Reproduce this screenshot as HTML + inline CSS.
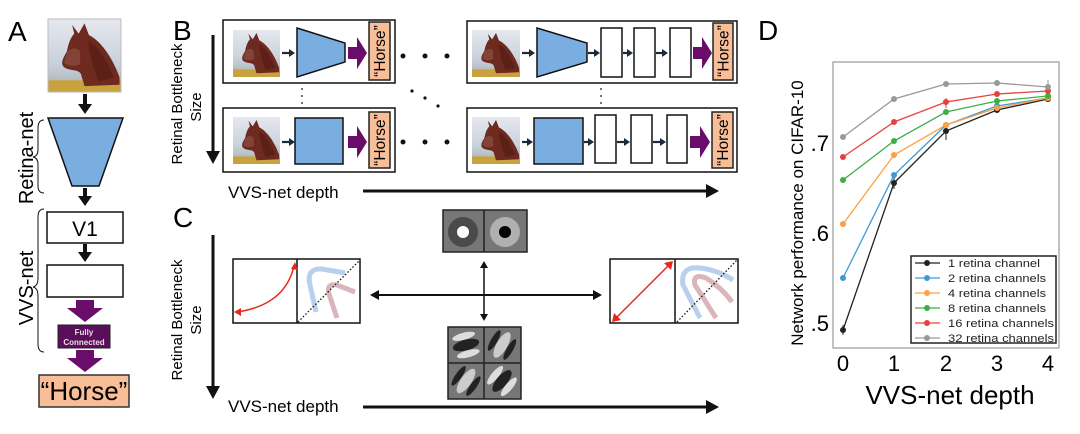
<!DOCTYPE html>
<html><head><meta charset="utf-8"><style>
html,body{margin:0;padding:0;background:#fff;}
svg{display:block;}
text{font-family:"Liberation Sans",sans-serif;}
</style></head><body>
<svg width="1080" height="434" viewBox="0 0 1080 434" xmlns="http://www.w3.org/2000/svg">
<defs>
<linearGradient id="sky" x1="0" y1="0" x2="0" y2="1">
<stop offset="0" stop-color="#e6e8ee"/><stop offset="0.6" stop-color="#c9d2dc"/><stop offset="0.8" stop-color="#b8c0c8"/><stop offset="1" stop-color="#c8a23c"/>
</linearGradient>
<symbol id="horse" viewBox="0 0 100 100" preserveAspectRatio="none">
<rect x="0" y="0" width="100" height="100" fill="url(#sky)"/>
<rect x="0" y="84" width="100" height="16" fill="#c9a23e"/>
<path d="M33,8 L42,20 L50,6 L56,22 C72,30 88,52 98,80 L98,90 L50,92 L45,75 C40,68 30,72 22,66 C16,60 22,52 26,44 C28,32 32,24 36,20 Z" fill="#6e2a1e"/>
<path d="M26,46 C30,40 38,38 44,44 L44,62 C36,66 26,64 22,60 Z" fill="#8a5040" opacity="0.7"/>
<path d="M55,30 C70,38 80,55 90,80 L70,86 C62,70 58,50 55,30 Z" fill="#521a12" opacity="0.6"/>
</symbol>
<symbol id="gab" viewBox="-20 -20 40 40">
<ellipse cx="0" cy="-10" rx="13" ry="4" fill="#ddd"/>
<ellipse cx="0" cy="0" rx="15" ry="6" fill="#222"/>
<ellipse cx="0" cy="10" rx="13" ry="4" fill="#ddd"/>
</symbol>
<symbol id="gab2" viewBox="-20 -20 40 40">
<ellipse cx="0" cy="-10" rx="13" ry="3.5" fill="#222"/>
<ellipse cx="0" cy="0" rx="16" ry="6" fill="#ccc"/>
<ellipse cx="0" cy="10" rx="13" ry="3.5" fill="#222"/>
</symbol>
</defs>

<!-- ===== Panel A ===== -->
<text x="8" y="41" font-size="28">A</text>
<use href="#horse" x="48" y="19" width="73" height="73"/>
<rect x="48" y="19" width="73" height="73" fill="none" stroke="#bbb" stroke-width="1"/>
<g fill="#111">
<rect x="83" y="94" width="4" height="11"/><polygon points="78,104 92,104 85,114"/>
<rect x="83" y="188" width="4" height="9"/><polygon points="78,196 92,196 85,206"/>
<rect x="83" y="244" width="4" height="9"/><polygon points="78,252 92,252 85,262"/>
</g>
<polygon points="48,118 123,118 99,186 72,186" fill="#7aaee0" stroke="#111" stroke-width="1.5"/>
<rect x="47" y="212" width="76" height="31" fill="#fff" stroke="#111" stroke-width="1.5"/>
<text x="85" y="236" font-size="21" text-anchor="middle">V1</text>
<rect x="47" y="265" width="76" height="32" fill="#fff" stroke="#111" stroke-width="1.5"/>
<g fill="#6a0d6a">
<rect x="76" y="300" width="18" height="9"/><polygon points="67,308 103,308 85,322"/>
<rect x="76" y="350" width="18" height="9"/><polygon points="67,358 103,358 85,372"/>
</g>
<rect x="58" y="325" width="52" height="23" fill="#5a0f5a" stroke="#222" stroke-width="1"/>
<text x="84" y="335" font-size="8" font-weight="bold" fill="#f4d8e8" text-anchor="middle">Fully</text>
<text x="84" y="345" font-size="8" font-weight="bold" fill="#f4d8e8" text-anchor="middle">Connected</text>
<rect x="39" y="375" width="90" height="32" fill="#f7be98" stroke="#333" stroke-width="1.5"/>
<text x="84" y="400" font-size="26" text-anchor="middle">“Horse”</text>
<path d="M44,120 Q38,120 38,128 L38,150 Q38,156 33,157 Q38,158 38,164 L38,186 Q38,193 44,193" fill="none" stroke="#111" stroke-width="1"/>
<text transform="translate(33,158) rotate(-90)" font-size="20" text-anchor="middle">Retina-net</text>
<path d="M44,209 Q38,209 38,217 L38,278 Q38,286 33,287 Q38,288 38,296 L38,344 Q38,352 44,352" fill="none" stroke="#111" stroke-width="1"/>
<text transform="translate(33,288) rotate(-90)" font-size="20" text-anchor="middle">VVS-net</text>

<!-- ===== Panel B ===== -->
<text x="173" y="40" font-size="28">B</text>
<text transform="translate(182,104) rotate(-90)" font-size="15" text-anchor="middle">Retinal Bottleneck</text>
<text transform="translate(201,107) rotate(-90)" font-size="15" text-anchor="middle">Size</text>
<rect x="211.5" y="35" width="3" height="118" fill="#111"/><polygon points="206,151 220,151 213,164" fill="#111"/>
<text x="228" y="198" font-size="17">VVS-net depth</text>
<rect x="363" y="189.5" width="345" height="3" fill="#111"/><polygon points="706,184 719,191 706,198" fill="#111"/>

<rect x="223" y="20" width="172" height="63" fill="#fff" stroke="#111" stroke-width="1.5"/>
<use href="#horse" x="233" y="30" width="47" height="47"/>
<polygon points="297,28 345,43 345,62 297,77" fill="#7aaee0" stroke="#111" stroke-width="1.5"/>
<rect x="223" y="108" width="172" height="64" fill="#fff" stroke="#111" stroke-width="1.5"/>
<use href="#horse" x="233" y="117" width="47" height="47"/>
<rect x="295" y="118" width="48" height="46" fill="#7aaee0" stroke="#111" stroke-width="1.5"/>
<rect x="467" y="21" width="270" height="62" fill="#fff" stroke="#111" stroke-width="1.5"/>
<use href="#horse" x="472" y="30" width="48" height="47"/>
<polygon points="537,28 587,43 587,62 537,77" fill="#7aaee0" stroke="#111" stroke-width="1.5"/>
<rect x="601" y="28" width="21" height="49" fill="#fff" stroke="#111" stroke-width="1.5"/>
<rect x="634" y="28" width="21" height="49" fill="#fff" stroke="#111" stroke-width="1.5"/>
<rect x="670" y="28" width="21" height="49" fill="#fff" stroke="#111" stroke-width="1.5"/>
<rect x="467" y="108" width="270" height="64" fill="#fff" stroke="#111" stroke-width="1.5"/>
<use href="#horse" x="472" y="117" width="48" height="47"/>
<rect x="534" y="118" width="49" height="46" fill="#7aaee0" stroke="#111" stroke-width="1.5"/>
<rect x="595" y="115" width="21" height="48" fill="#fff" stroke="#111" stroke-width="1.5"/>
<rect x="631" y="115" width="21" height="48" fill="#fff" stroke="#111" stroke-width="1.5"/>
<rect x="667" y="115" width="20" height="48" fill="#fff" stroke="#111" stroke-width="1.5"/>
<g stroke="#1a2a3a" stroke-width="2.2" fill="#1a2a3a">
<line x1="282" y1="53" x2="290" y2="53"/><polygon points="289,49 295,53 289,57" stroke="none"/>
<line x1="282" y1="142" x2="290" y2="142"/><polygon points="289,138 295,142 289,146" stroke="none"/>
<line x1="522" y1="53" x2="530" y2="53"/><polygon points="529,49 535,53 529,57" stroke="none"/>
<line x1="588" y1="53" x2="595" y2="53"/><polygon points="594,49 600,53 594,57" stroke="none"/>
<line x1="623" y1="53" x2="628" y2="53"/><polygon points="627,49 633,53 627,57" stroke="none"/>
<line x1="656" y1="53" x2="663" y2="53"/><polygon points="662,49 668,53 662,57" stroke="none"/>
<line x1="522" y1="142" x2="527" y2="142"/><polygon points="527,138 533,142 527,146" stroke="none"/>
<line x1="584" y1="142" x2="588" y2="142"/><polygon points="588,138 594,142 588,146" stroke="none"/>
<line x1="617" y1="142" x2="624" y2="142"/><polygon points="624,138 630,142 624,146" stroke="none"/>
<line x1="653" y1="142" x2="660" y2="142"/><polygon points="660,138 666,142 660,146" stroke="none"/>
</g>
<g fill="#6a0d6a">
<polygon points="348,47 357,47 357,37 367,53 357,69 357,59 348,59"/>
<polygon points="348,136 357,136 357,126 367,142 357,158 357,148 348,148"/>
<polygon points="693,47 702,47 702,37 712,53 702,69 702,59 693,59"/>
<polygon points="690,136 700,136 700,126 710,142 700,158 700,148 690,148"/>
</g>
<g fill="#f7be98" stroke="#222" stroke-width="1.5">
<rect x="369" y="22" width="21" height="58"/><rect x="369" y="112" width="21" height="56"/>
<rect x="713" y="23" width="20" height="57"/><rect x="712" y="112" width="21" height="56"/>
</g>
<g font-size="15.5">
<text transform="translate(385,51) rotate(-90)" text-anchor="middle">“Horse”</text>
<text transform="translate(385,140) rotate(-90)" text-anchor="middle">“Horse”</text>
<text transform="translate(728.5,51) rotate(-90)" text-anchor="middle">“Horse”</text>
<text transform="translate(728,140) rotate(-90)" text-anchor="middle">“Horse”</text>
</g>
<g fill="#111">
<circle cx="403" cy="56" r="2.5"/><circle cx="425" cy="56" r="2.5"/><circle cx="447" cy="56" r="2.5"/>
<circle cx="403" cy="142" r="2.5"/><circle cx="425" cy="142" r="2.5"/><circle cx="447" cy="142" r="2.5"/>
<circle cx="412" cy="91" r="1.6"/><circle cx="425" cy="98" r="1.6"/><circle cx="438" cy="106" r="1.6"/>
<circle cx="302" cy="89" r="0.9"/><circle cx="302" cy="96" r="0.9"/><circle cx="302" cy="103" r="0.9"/>
<circle cx="601" cy="89" r="0.9"/><circle cx="601" cy="96" r="0.9"/><circle cx="601" cy="103" r="0.9"/>
</g>

<!-- ===== Panel C ===== -->
<text x="173" y="227" font-size="28">C</text>
<text transform="translate(182,320) rotate(-90)" font-size="15" text-anchor="middle">Retinal Bottleneck</text>
<text transform="translate(201,320) rotate(-90)" font-size="15" text-anchor="middle">Size</text>
<rect x="211.5" y="235" width="3" height="153" fill="#111"/><polygon points="206,386 220,386 213,399" fill="#111"/>
<text x="228" y="412" font-size="17">VVS-net depth</text>
<rect x="363" y="405.5" width="345" height="3" fill="#111"/><polygon points="706,400 719,407 706,414" fill="#111"/>

<rect x="233" y="259" width="127" height="64" fill="#fff" stroke="#111" stroke-width="1.5"/>
<line x1="297" y1="259" x2="297" y2="323" stroke="#111" stroke-width="1.5"/>
<path d="M316,312 L310,285 Q306,268 322,269 L345,273" fill="none" stroke="#b8d0ee" stroke-width="5"/>
<path d="M337,318 L329,294 Q326,283 337,285 L355,292" fill="none" stroke="#d8b6bb" stroke-width="5"/>
<line x1="298" y1="322" x2="360" y2="260" stroke="#111" stroke-width="1.3" stroke-dasharray="1.5,2"/>
<path d="M237,312 Q285,305 294,266" fill="none" stroke="#e8261a" stroke-width="1.5"/>
<polygon points="234,312 241,308 241,316" fill="#e8261a"/>
<polygon points="295,262 291,269 298,270" fill="#e8261a"/>
<rect x="610" y="259" width="128" height="64" fill="#fff" stroke="#111" stroke-width="1.5"/>
<line x1="675" y1="259" x2="675" y2="323" stroke="#111" stroke-width="1.5"/>
<path d="M700,318 L683,285 Q680,266 700,268 Q718,270 733,280" fill="none" stroke="#b8d0ee" stroke-width="5"/>
<path d="M716,318 L695,285 Q692,273 706,278 Q722,288 732,302" fill="none" stroke="#d8b6bb" stroke-width="5"/>
<line x1="677" y1="322" x2="737" y2="260" stroke="#111" stroke-width="1.3" stroke-dasharray="1.5,2"/>
<line x1="615" y1="319" x2="670" y2="264" stroke="#e8261a" stroke-width="1.5"/>
<polygon points="612,322 614,313 621,320" fill="#e8261a"/>
<polygon points="673,261 664,263 671,270" fill="#e8261a"/>
<line x1="376" y1="295" x2="596" y2="295" stroke="#111" stroke-width="2"/>
<polygon points="370,295 379,290 379,300" fill="#111"/>
<polygon points="602,295 593,290 593,300" fill="#111"/>
<line x1="484" y1="266" x2="484" y2="316" stroke="#111" stroke-width="1.5"/>
<polygon points="484,261 480,268 488,268" fill="#111"/>
<polygon points="484,321 480,314 488,314" fill="#111"/>
<rect x="443" y="210" width="84" height="42" fill="#777" stroke="#222" stroke-width="1.5"/>
<line x1="484" y1="210" x2="484" y2="252" stroke="#222" stroke-width="1.5"/>
<circle cx="463" cy="232" r="15" fill="#4a4a4a"/><circle cx="463" cy="232" r="6" fill="#fff"/>
<circle cx="505" cy="232" r="15" fill="#b0b0b0"/><circle cx="505" cy="232" r="6" fill="#000"/>
<rect x="448" y="327" width="73" height="72" fill="#777" stroke="#222" stroke-width="1.5"/>
<use href="#gab" x="448" y="327" width="36" height="36" transform="rotate(-15 466 345)"/>
<use href="#gab2" x="484" y="327" width="36" height="36" transform="rotate(-60 502 345)"/>
<use href="#gab2" x="448" y="363" width="36" height="36" transform="rotate(-55 466 381)"/>
<use href="#gab" x="484" y="363" width="36" height="36" transform="rotate(-50 502 381)"/>
<line x1="484" y1="327" x2="484" y2="399" stroke="#222" stroke-width="1.5"/>
<line x1="448" y1="363" x2="521" y2="363" stroke="#222" stroke-width="1.5"/>

<!-- ===== Panel D ===== -->
<text x="758" y="40" font-size="28">D</text>
<rect x="833" y="62" width="226" height="286" fill="#fff" stroke="#999" stroke-width="1.2"/>
<g font-family="Liberation Serif, serif" font-size="22" text-anchor="end">
<text x="829" y="151">.7</text><text x="829" y="241">.6</text><text x="829" y="331">.5</text>
</g>
<g font-family="Liberation Serif, serif" font-size="22" text-anchor="middle">
<text x="843" y="371">0</text><text x="894" y="371">1</text><text x="946" y="371">2</text><text x="997" y="371">3</text><text x="1048" y="371">4</text>
</g>
<text transform="translate(803,213) rotate(-90)" font-size="17" text-anchor="middle">Network performance on CIFAR-10</text>
<text x="950" y="404" font-size="26" text-anchor="middle">VVS-net depth</text>
<g fill="none" stroke-width="1.3">
<polyline points="843,330 894,183 946,131 997,110 1048,99" stroke="#222"/>
<polyline points="843,278 894,175 946,125 997,106 1048,98" stroke="#3d9ad6"/>
<polyline points="843,224 894,155 946,125 997,108 1048,98" stroke="#ff9f3f"/>
<polyline points="843,180 894,141 946,112 997,101 1048,96" stroke="#3cb043"/>
<polyline points="843,157 894,122 946,102 997,94 1048,91" stroke="#e8403e"/>
<polyline points="843,137 894,99 946,84 997,83 1048,87" stroke="#999"/>
</g>
<g stroke-width="1">
<line x1="843" y1="325" x2="843" y2="335" stroke="#222"/><line x1="894" y1="177" x2="894" y2="189" stroke="#222"/><line x1="946" y1="123" x2="946" y2="140" stroke="#222"/>
<line x1="946" y1="98" x2="946" y2="108" stroke="#e8403e"/><line x1="1048" y1="80" x2="1048" y2="96" stroke="#999"/>
</g>
<g>
<g fill="#222"><circle cx="843" cy="330" r="3"/><circle cx="894" cy="183" r="3"/><circle cx="946" cy="131" r="3"/><circle cx="997" cy="110" r="3"/><circle cx="1048" cy="99" r="3"/></g>
<g fill="#3d9ad6"><circle cx="843" cy="278" r="3"/><circle cx="894" cy="175" r="3"/><circle cx="946" cy="125" r="3"/><circle cx="997" cy="106" r="3"/><circle cx="1048" cy="98" r="3"/></g>
<g fill="#ff9f3f"><circle cx="843" cy="224" r="3"/><circle cx="894" cy="155" r="3"/><circle cx="946" cy="125" r="3"/><circle cx="997" cy="108" r="3"/><circle cx="1048" cy="98" r="3"/></g>
<g fill="#3cb043"><circle cx="843" cy="180" r="3"/><circle cx="894" cy="141" r="3"/><circle cx="946" cy="112" r="3"/><circle cx="997" cy="101" r="3"/><circle cx="1048" cy="96" r="3"/></g>
<g fill="#e8403e"><circle cx="843" cy="157" r="3"/><circle cx="894" cy="122" r="3"/><circle cx="946" cy="102" r="3"/><circle cx="997" cy="94" r="3"/><circle cx="1048" cy="91" r="3"/></g>
<g fill="#999"><circle cx="843" cy="137" r="3"/><circle cx="894" cy="99" r="3"/><circle cx="946" cy="84" r="3"/><circle cx="997" cy="83" r="3"/><circle cx="1048" cy="87" r="3"/></g>
</g>
<rect x="911" y="256" width="145" height="87" fill="#fff" stroke="#222" stroke-width="1.5"/>
<g stroke-width="1.3">
<line x1="915" y1="263" x2="940" y2="263" stroke="#222"/><circle cx="927" cy="263" r="3" fill="#222"/>
<line x1="915" y1="278" x2="940" y2="278" stroke="#3d9ad6"/><circle cx="927" cy="278" r="3" fill="#3d9ad6"/>
<line x1="915" y1="293" x2="940" y2="293" stroke="#ff9f3f"/><circle cx="927" cy="293" r="3" fill="#ff9f3f"/>
<line x1="915" y1="308" x2="940" y2="308" stroke="#3cb043"/><circle cx="927" cy="308" r="3" fill="#3cb043"/>
<line x1="915" y1="323" x2="940" y2="323" stroke="#e8403e"/><circle cx="927" cy="323" r="3" fill="#e8403e"/>
<line x1="915" y1="338" x2="940" y2="338" stroke="#999"/><circle cx="927" cy="338" r="3" fill="#999"/>
</g>
<g font-family="DejaVu Sans, sans-serif" font-size="11" fill="#222">
<text x="948" y="267" textLength="92" lengthAdjust="spacingAndGlyphs">1 retina channel</text>
<text x="948" y="282" textLength="98" lengthAdjust="spacingAndGlyphs">2 retina channels</text>
<text x="948" y="297" textLength="98" lengthAdjust="spacingAndGlyphs">4 retina channels</text>
<text x="948" y="312" textLength="98" lengthAdjust="spacingAndGlyphs">8 retina channels</text>
<text x="948" y="327" textLength="106" lengthAdjust="spacingAndGlyphs">16 retina channels</text>
<text x="948" y="342" textLength="106" lengthAdjust="spacingAndGlyphs">32 retina channels</text>
</g>
</svg>
</body></html>
